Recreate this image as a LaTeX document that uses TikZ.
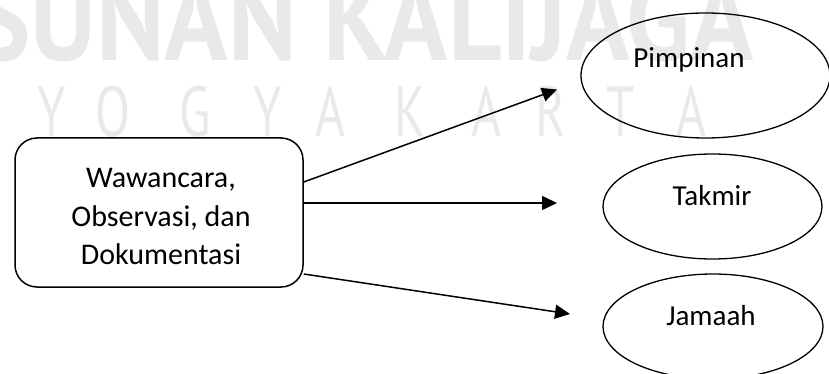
\documentclass[tikz,border=0pt]{standalone}
\usepackage{graphicx}
\usepackage{fontspec}
\setmainfont{Carlito}
\newfontfamily\wmfont{PT Sans}
\usetikzlibrary{shapes.geometric,arrows.meta}
\definecolor{wm}{RGB}{233,233,233}
\begin{document}
\begin{tikzpicture}[x=1pt,y=-1pt,
  srcbox/.style={draw, line width=1.5pt, rounded corners=22pt, minimum width=288pt, minimum height=149pt, inner sep=0pt},
  oval/.style={draw, ellipse, line width=1.3pt, inner sep=0pt},
  boxtxt/.style={font=\fontsize{30}{38.5}\selectfont, align=center, inner sep=0pt},
  ovaltxt/.style={font=\fontsize{29}{35}\selectfont, anchor=base, inner sep=0pt},
  conn/.style={line width=1.5pt, -{Triangle[length=15pt,width=14pt]}},
  wmbig/.style={text=wm, inner sep=0pt, anchor=base west},
  wmsmall/.style={text=wm, inner sep=0pt, anchor=base, font=\wmfont\fontsize{71}{71}\selectfont}
]
\useasboundingbox (0,0) rectangle (829,374);
\clip (0,0) rectangle (829,374);
% watermark
\node[wmbig] (wm1) at (-25,61) {\resizebox{778pt}{85pt}{\wmfont\bfseries SUNAN KALIJAGA}};
\foreach \l/\x [count=\i] in {Y/52,O/113,G/195,Y/268,A/330,K/410,A/486,R/551,T/621,A/691}
  \node[wmsmall] (wy\i) at (\x,137) {\scalebox{0.72}[1]{\l}};
% source box
\node[srcbox] (src) at (159,212.5) {};
\node[boxtxt] (srct) at (161,216.9) {Wawancara,\\Observasi, dan\\Dokumentasi};
% ellipses
\node[oval, minimum width=249pt, minimum height=125pt] (pim) at (705.5,75.5) {};
\node[oval, minimum width=219pt, minimum height=105pt] (tak) at (712.5,206.5) {};
\node[oval, minimum width=220pt, minimum height=105pt] (jam) at (713,326.5) {};
\node[ovaltxt] (pimt) at (689,68) {Pimpinan};
\node[ovaltxt] (takt) at (712,205) {Takmir};
\node[ovaltxt] (jamt) at (711,325) {Jamaah};
% arrows
\coordinate (t1) at (557,89.5);
\coordinate (t2) at (557,203);
\coordinate (t3) at (570,314);
\draw[conn] ([yshift=30.5pt]src.east) -- (t1);
\draw[conn] ([yshift=9.5pt]src.east) -- (t2);
\draw[conn] ([yshift=-61.5pt]src.east) -- (t3);
\end{tikzpicture}
\end{document}
